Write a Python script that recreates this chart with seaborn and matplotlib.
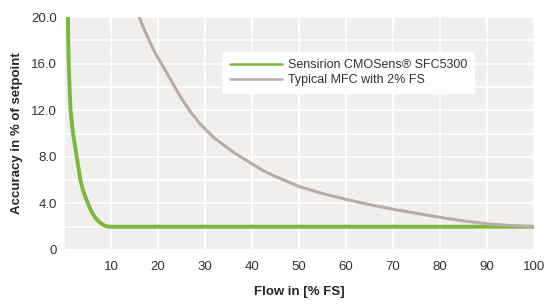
import pandas as pd
import matplotlib.pyplot as plt
import seaborn as sns

# values
sensirion_flow = [0.85, 0.9, 1.0, 1.2, 1.4, 1.7, 2.0, 2.4, 2.7, 3.1, 3.5, 4.0, 4.5,
                  5.1, 5.6, 6.2, 6.8, 7.4, 8.0, 8.6, 9.2, 9.8, 100]
sensirion_acc = [20.0, 18.0, 16.0, 13.8, 12.0, 10.8, 9.8, 8.8, 8.0, 7.0, 6.0, 5.2, 4.6,
                 4.0, 3.5, 3.05, 2.7, 2.45, 2.25, 2.1, 2.03, 2.0, 2.0]
mfc_flow = [16, 17, 18, 19, 20, 21, 22, 23, 24, 25, 26, 27, 28, 29, 30, 32, 34, 36, 38,
            40, 42, 45, 48, 50, 55, 60, 65, 70, 75, 80, 85, 90, 95, 100]
mfc_acc = [20.0, 19.0, 18.1, 17.2, 16.5, 15.8, 15.1, 14.4, 13.7, 13.0, 12.4, 11.8, 11.3,
           10.8, 10.4, 9.6, 9.0, 8.4, 7.9, 7.4, 6.9, 6.3, 5.8, 5.45, 4.85, 4.35, 3.9,
           3.5, 3.15, 2.8, 2.5, 2.25, 2.1, 2.0]

labels = ["Sensirion CMOSens\u00ae SFC5300", "Typical MFC with 2% FS"]
colors = ["#78b83a", "#b9aba6"]
xticks = [10, 20, 30, 40, 50, 60, 70, 80, 90, 100]
yticks = [0, 4, 8, 12, 16, 20]
ytick_labels = ["0", "4.0", "8.0", "12.0", "16.0", "20.0"]

df = pd.concat([
    pd.DataFrame({"flow": sensirion_flow, "acc": sensirion_acc, "series": labels[0]}),
    pd.DataFrame({"flow": mfc_flow, "acc": mfc_acc, "series": labels[1]}),
])

sns.set_theme(style="white", rc={"axes.facecolor": "#f1efed"})
plt.rcParams['font.family'] = ['Liberation Sans', 'DejaVu Sans']
plt.rcParams['text.color'] = '#333333'

fig = plt.figure(figsize=(5.45, 3.04), dpi=100)
ax = fig.add_axes([64 / 545, 1 - 250 / 304, 470 / 545, 233 / 304])

sns.lineplot(data=df, x="flow", y="acc", hue="series", palette=colors,
             linewidth=2.2, ax=ax, zorder=3)
for line, lw in zip(ax.get_lines(), [2.8, 2.2]):
    line.set_linewidth(lw)
    line.set_solid_capstyle("round")
    line.set_solid_joinstyle("round")

ax.set_xlim(0, 100)
ax.set_ylim(0, 20)
ax.set_xticks(xticks)
ax.set_yticks(yticks)
ax.set_yticklabels(ytick_labels)
ax.set_xticks(range(0, 101, 10), minor=True)
ax.set_yticks(range(0, 21, 2), minor=True)
ax.grid(which="minor", color="white", linewidth=1.3)
ax.grid(which="major", color="white", linewidth=1.3)
ax.tick_params(axis="both", which="both", length=0, labelsize=9.5, colors="#333333")
ax.tick_params(axis="x", pad=8)
ax.tick_params(axis="y", pad=5)
for s in ax.spines.values():
    s.set_visible(False)

ax.set_xlabel("Flow in [% FS]", fontsize=9.5, fontweight="bold", labelpad=9)
ax.set_ylabel("Accuracy in % of setpoint", fontsize=9.5, fontweight="bold", labelpad=6)

leg = ax.legend(loc="upper left", bbox_to_anchor=(158 / 470, 1 - 35 / 233),
                frameon=True, fancybox=False, framealpha=1, facecolor="white",
                edgecolor="white", fontsize=9, handlelength=4.2, handletextpad=0.5,
                borderpad=0.6, labelspacing=0.2, borderaxespad=0)
leg.get_frame().set_linewidth(0)
leg.set_zorder(5)
for h in leg.get_lines():
    h.set_linewidth(1.8)

fig.savefig("out.png", dpi=100)
